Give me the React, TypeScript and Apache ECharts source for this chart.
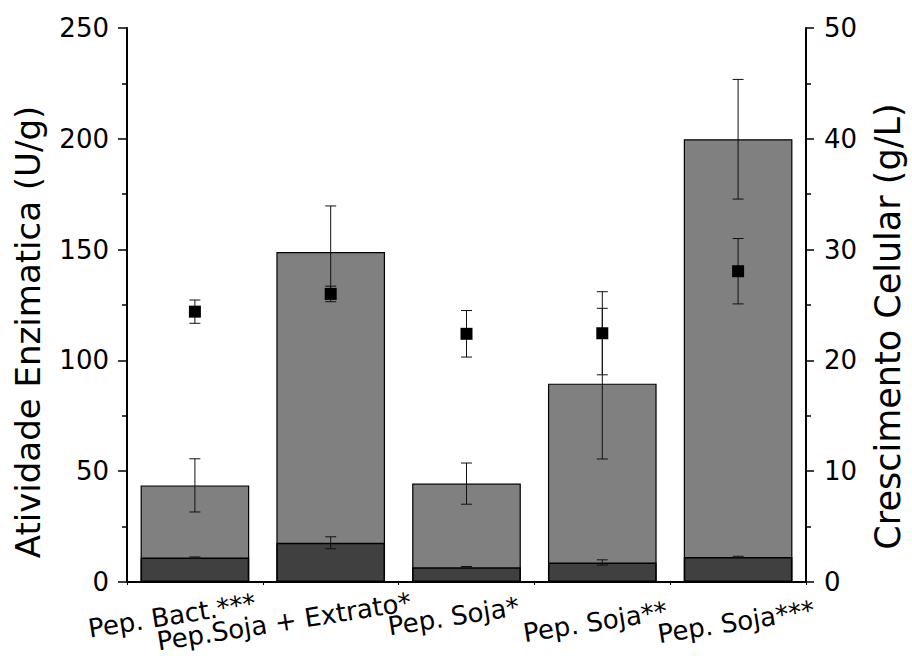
import React, { useEffect, useRef } from 'react';
import * as echarts from 'echarts';

// ---- data ----
const categories = ['Pep. Bact.***', 'Pep.Soja + Extrato*', 'Pep. Soja*', 'Pep. Soja**', 'Pep. Soja***'];
const enzymeActivity = [43.6, 148.9, 44.4, 89.5, 199.8];
const enzymeActivityErr = [12.0, 20.8, 9.3, 34.0, 27.0];
const baseActivity = [11.0, 17.7, 6.6, 8.8, 11.3];
const baseActivityErr = [0.3, 2.7, 0.4, 1.2, 0.3];
const cellGrowth = [24.4, 26.0, 22.4, 22.45, 28.05];
const cellGrowthErr = [1.05, 0.7, 2.1, 3.75, 2.95];

const leftAxisName = 'Atividade Enzimatica (U/g)';
const rightAxisName = 'Crescimento Celular (g/L)';

// ---- label layout tweaks (px along / across the rotated label) ----
const labelShift = [-25.6, -49.9, -15.8, -10.9, -5.9];
const labelDrop = [-8.6, -6.5, -6.4, 0, 0.8];

const FONT = 'DejaVu Sans';

function errRender(params: any, api: any) {
  const x = api.value(0);
  const lo = api.coord([x, api.value(1)]);
  const hi = api.coord([x, api.value(2)]);
  const hw = 5.5;
  const style = { stroke: '#111', lineWidth: 1, fill: null };
  return {
    type: 'group',
    children: [
      { type: 'line', shape: { x1: hi[0], y1: hi[1], x2: lo[0], y2: lo[1] }, style },
      { type: 'line', shape: { x1: hi[0] - hw, y1: hi[1], x2: hi[0] + hw, y2: hi[1] }, style },
      { type: 'line', shape: { x1: lo[0] - hw, y1: lo[1], x2: lo[0] + hw, y2: lo[1] }, style },
    ],
  };
}

function errData(vals: number[], errs: number[]) {
  return vals.map((v, i) => [i, v - errs[i], v + errs[i]]);
}

export default function App() {
  const ref = useRef<HTMLDivElement>(null);
  useEffect(() => {
    document.body.style.margin = '0';
    if (!ref.current) return;
    const chart = echarts.init(ref.current, null, { renderer: 'svg' });

    const rich: any = {};
    categories.forEach((_, i) => {
      const d = labelShift[i];
      rich['l' + i] = {
        fontFamily: FONT,
        fontSize: 26,
        lineHeight: 26,
        color: '#000',
        verticalAlign: 'top',
        padding: [10 + labelDrop[i], d < 0 ? -2 * d : 0, 0, d > 0 ? 2 * d : 0],
      };
    });

    const axisLineStyle = { color: '#000', width: 2 };

    chart.setOption({
      animation: false,
      backgroundColor: '#fff',
      grid: { left: 127, right: 106, top: 28, bottom: 74, containLabel: false, outerBoundsMode: 'none' },
      xAxis: {
        type: 'category',
        data: categories,
        axisLine: { lineStyle: axisLineStyle },
        axisTick: { show: true, length: 3, lineStyle: { color: '#000', width: 1 } },
        axisLabel: {
          interval: 0,
          rotate: 9,
          align: 'center',
          verticalAlign: 'top',
          margin: 15.5,
          formatter: (v: string, i: number) => `{l${i}|${v}}`,
          rich,
        },
      },
      yAxis: [
        {
          type: 'value',
          min: 0,
          max: 250,
          interval: 50,
          position: 'left',
          name: leftAxisName,
          nameLocation: 'middle',
          nameGap: 82,
          nameTextStyle: { fontFamily: FONT, fontSize: 34, color: '#000', padding: [0, 54, 0, 0] },
          axisLine: { show: true, lineStyle: axisLineStyle },
          axisTick: { show: true, length: 9, lineStyle: { color: '#000', width: 1.5 } },
          minorTick: { show: true, splitNumber: 2, length: 5, lineStyle: { color: '#000', width: 1.5 } },
          splitLine: { show: false },
          axisLabel: { fontFamily: FONT, fontSize: 26, color: '#000', margin: 18 },
        },
        {
          type: 'value',
          min: 0,
          max: 50,
          interval: 10,
          position: 'right',
          name: rightAxisName,
          nameLocation: 'middle',
          nameGap: 64,
          nameTextStyle: { fontFamily: FONT, fontSize: 35, color: '#000', padding: [0, 43, 0, 0] },
          axisLine: { show: true, lineStyle: axisLineStyle },
          axisTick: { show: true, length: 8, lineStyle: { color: '#000', width: 1.5 } },
          minorTick: { show: true, splitNumber: 2, length: 5, lineStyle: { color: '#000', width: 1.5 } },
          splitLine: { show: false },
          axisLabel: { fontFamily: FONT, fontSize: 26, color: '#000', margin: 18 },
        },
      ],
      series: [
        {
          type: 'bar',
          data: enzymeActivity,
          barWidth: '80%',
          barGap: '-100%',
          z: 2,
          itemStyle: { color: '#808080', borderColor: '#000', borderWidth: 1.2 },
        },
        {
          type: 'bar',
          data: baseActivity,
          barWidth: '80%',
          barGap: '-100%',
          z: 3,
          itemStyle: { color: '#404040', borderColor: '#000', borderWidth: 1.5 },
        },
        {
          type: 'custom',
          renderItem: errRender,
          data: errData(enzymeActivity, enzymeActivityErr),
          encode: { x: 0, y: [1, 2] },
          z: 4,
        },
        {
          type: 'custom',
          renderItem: errRender,
          data: errData(baseActivity, baseActivityErr),
          encode: { x: 0, y: [1, 2] },
          z: 4,
        },
        {
          type: 'custom',
          yAxisIndex: 1,
          renderItem: errRender,
          data: errData(cellGrowth, cellGrowthErr),
          encode: { x: 0, y: [1, 2] },
          z: 4,
        },
        {
          type: 'scatter',
          yAxisIndex: 1,
          data: cellGrowth,
          symbol: 'rect',
          symbolSize: 12,
          z: 5,
          itemStyle: { color: '#000', opacity: 1 },
        },
      ],
    });
    return () => chart.dispose();
  }, []);
  return <div ref={ref} style={{ width: 912, height: 656 }} />;
}
